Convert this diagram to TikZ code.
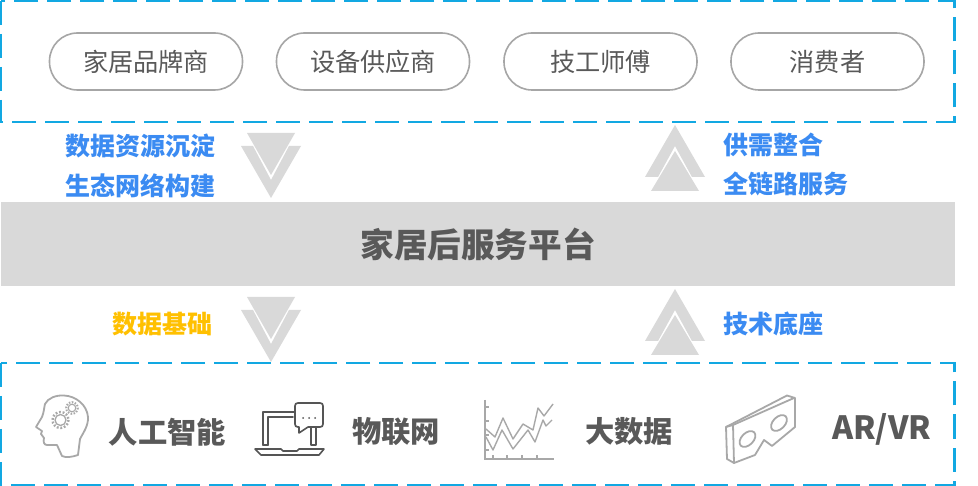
\documentclass[tikz,border=0pt]{standalone}
\usepackage{fontspec}
\setmainfont{Noto Sans CJK SC}
\usetikzlibrary{calc}
\definecolor{dashblue}{HTML}{12A8E2}
\definecolor{pillgray}{HTML}{A6A6A6}
\definecolor{txtgray}{HTML}{595959}
\definecolor{bandgray}{HTML}{D9D9D9}
\definecolor{lblue}{HTML}{3B8BF2}
\definecolor{lyellow}{HTML}{FFC000}
\definecolor{icongray}{HTML}{A8A8A8}
\definecolor{icondark}{HTML}{555555}
\tikzset{
 dashbox/.style={draw=dashblue,line width=2.9pt,dash pattern=on 24pt off 9pt},
 pill/.style={draw=pillgray,line width=1.6pt,rounded corners=28pt,minimum width=193pt,minimum height=57pt,inner sep=0pt,font=\fontsize{25.2}{25}\selectfont,text=txtgray},
 sidelabel/.style={font=\fontsize{25}{25}\selectfont\bfseries,text=lblue,inner sep=0pt},
 techlabel/.style={font=\fontsize{29.3}{29}\selectfont\bfseries,text=txtgray,inner sep=0pt},
 arrowfill/.style={fill=bandgray,draw=none},
 iconline/.style={draw=icongray,line width=1.8pt,line join=round,line cap=round},
 icondarkline/.style={draw=icondark,line width=1.6pt,line join=round,line cap=round},
}
\newcommand{\downarrowpair}[1]{%
 \begin{scope}[yshift=-#1pt]
 \fill[arrowfill] (247,133)--(295,133)--(271,175)--cycle;
 \fill[arrowfill] (241,146)--(253,146)--(271,180)--(289,146)--(301,146)--(271,198)--cycle;
 \end{scope}}
\newcommand{\uparrowpair}[1]{%
 \begin{scope}[yshift=-#1pt]
 \fill[arrowfill] (675,125)--(705,177)--(692,177)--(675,146)--(658,177)--(645,177)--cycle;
 \fill[arrowfill] (675,151)--(699,191)--(651,191)--cycle;
 \end{scope}}
\begin{document}
\begin{tikzpicture}[x=1pt,y=-1pt]
\useasboundingbox (0,0) rectangle (978,486);
\fill[white] (0,0) rectangle (978,486);
% frames and band
\draw[dashbox] (1,1) rectangle (954.5,122);
\draw[dashbox] (1,363) rectangle (954.5,485);
\node[fill=bandgray,minimum width=954pt,minimum height=84pt,inner sep=0pt,font=\fontsize{33.6}{33}\selectfont\bfseries,text=txtgray] (band) at (478,244) {家居后服务平台};
% top pills
\node[pill] (p1) at (146,61.5) {家居品牌商};
\node[pill] (p2) at (373,61.5) {设备供应商};
\node[pill] (p3) at (600.5,61.5) {技工师傅};
\node[pill] (p4) at (827.5,61.5) {消费者};
% arrows
\downarrowpair{0}
\downarrowpair{164}
\uparrowpair{0}
\uparrowpair{164}
% labels
\node[sidelabel,anchor=east] (l1) at (215.5,146) {数据资源沉淀};
\node[sidelabel,anchor=east] (l2) at (215.5,186) {生态网络构建};
\node[sidelabel,anchor=west] (l3) at (723.5,145) {供需整合};
\node[sidelabel,anchor=west] (l4) at (723.5,184) {全链路服务};
\node[sidelabel,anchor=east,text=lyellow] (l5) at (212.5,324) {数据基础};
\node[sidelabel,anchor=west] (l6) at (723.5,324) {技术底座};
\node[techlabel,anchor=west] (t1) at (108.5,432) {人工智能};
\node[techlabel,anchor=west] (t2) at (352,432) {物联网};
\node[techlabel,anchor=west] (t3) at (585,431) {大数据};
\node[techlabel,anchor=west,font=\fontsize{32}{32}\selectfont\bfseries] (t4) at (832,429) {AR/VR};
% head icon
\draw[iconline] (36,427) -- (42,417) .. controls (44,412) and (44,408) .. (45,404) .. controls (48,398) and (56,395) .. (64,395.5) .. controls (76,396) and (87,405) .. (88,417) .. controls (88.5,426) and (83,433) .. (80,439) -- (78,455) .. controls (72,457) and (66,458) .. (62,456) -- (57,445) -- (47,445) .. controls (44,445) and (43,442) .. (44,438) -- (41,434) -- (42,431) -- cycle;
\draw[icongray,line width=1.3pt] (60.5,420) circle (5.5);
\draw[icongray,line width=2.4pt,dash pattern=on 1.8pt off 1.8pt] (60.5,420) circle (8);
\draw[icongray,line width=1.1pt] (72,408) circle (3.8);
\draw[icongray,line width=2pt,dash pattern=on 1.5pt off 1.5pt] (72,408) circle (5.8);
% laptop icon
\draw[icondarkline] (263,445) -- (263,412) -- (295,412);
\draw[icondarkline] (268,445) -- (268,417) -- (293,417);
\draw[icondarkline] (263,445) -- (268,445);
\draw[icondarkline] (311,428) -- (311,445) -- (316,445) -- (316,428);
\draw[icondarkline] (255,449) -- (281,449) -- (283,451) -- (297,451) -- (299,449) -- (324,449) -- (319,455) -- (261,455) -- cycle;
\draw[icondarkline,fill=white] (298,403) -- (320,403) .. controls (322,403) and (323,404) .. (323,406) -- (323,424) .. controls (323,426) and (322,427) .. (320,427) -- (308,427) -- (299,433) -- (299,427) -- (298,427) .. controls (296,427) and (295,426) .. (295,424) -- (295,406) .. controls (295,404) and (296,403) .. (298,403) -- cycle;
\fill[icondark] (303,418) circle (1) (309,418) circle (1) (315,418) circle (1);
% chart icon
\draw[draw=icongray,line width=1.3pt] (485,400) -- (485,459) -- (554,459);
\foreach \tx in {493,507,522,537} \draw[icongray,line width=1.3pt] (\tx,459) -- (\tx,455);
\foreach \ty in {407,421,435,450} \draw[icongray,line width=1.3pt] (485,\ty) -- (489,\ty);
\draw[icongray,line width=1.4pt,line join=round] (486,429) -- (495,437) -- (503,418) -- (513,439) -- (523,424) -- (533,430) -- (538,408) -- (544,416) -- (553,404);
\draw[icongray,line width=1.4pt,line join=round] (486,437) -- (493,450) -- (502,430) -- (513,449) -- (528,430) -- (535,442) -- (543,420) -- (546,426) -- (552,420);
% vr icon
\draw[iconline] (726,427) -- (787,395.5) -- (795,398) -- (795,427) -- (772,446) -- (764,440) -- (755,455) -- (734,463) -- (727,459) -- cycle;
\draw[iconline] (726,427) -- (733,425) -- (794,398);
\draw[iconline] (733,425) -- (734,463);
\draw[iconline,rotate around={45:(747.5,439)}] (747.5,439) ellipse (9.5 and 6);
\draw[iconline,rotate around={45:(779,423)}] (779,423) ellipse (9.5 and 6);
\end{tikzpicture}
\end{document}
